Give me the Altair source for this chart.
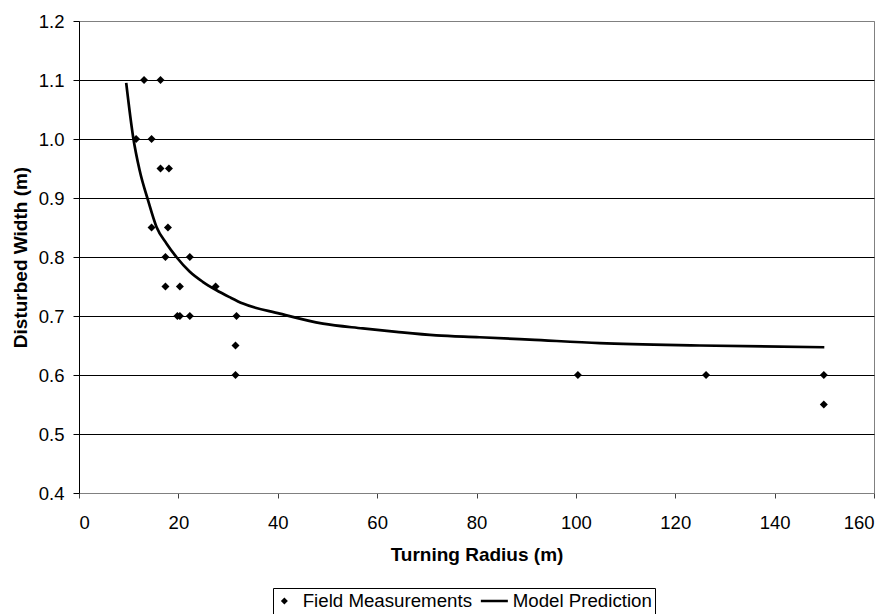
import altair as alt
import pandas as pd

# Field measurements (turning radius m, disturbed width m)
field_x = [13.1, 16.4, 11.5, 14.6, 16.4, 18.1, 14.6, 17.9, 17.4, 22.3, 17.4, 20.3,
           27.5, 19.8, 20.3, 22.3, 31.7, 31.5, 31.5, 100.4, 126.2, 149.9, 149.9]
field_y = [1.10, 1.10, 1.00, 1.00, 0.95, 0.95, 0.85, 0.85, 0.80, 0.80, 0.75, 0.75,
           0.75, 0.70, 0.70, 0.70, 0.70, 0.65, 0.60, 0.60, 0.60, 0.60, 0.55]

# Model prediction curve
model_x = [9.5, 10.9, 12.2, 13.9, 15.6, 17.6, 19.6, 22.3, 24.9, 27.6, 30.3, 33.0,
           40.4, 49.1, 57.1, 63.9, 71.9, 80.6, 90.7, 104.8, 124.9, 150.0]
model_y = [1.095, 1.003, 0.947, 0.896, 0.851, 0.823, 0.800, 0.775, 0.758, 0.744,
           0.732, 0.721, 0.704, 0.687, 0.679, 0.673, 0.667, 0.664, 0.660, 0.654,
           0.650, 0.647]

series_names = ["Field Measurements", "Model Prediction"]
x_ticks = [0, 20, 40, 60, 80, 100, 120, 140, 160]
y_ticks = [0.4, 0.5, 0.6, 0.7, 0.8, 0.9, 1.0, 1.1, 1.2]

field_df = pd.DataFrame({"x": field_x, "y": field_y, "series": series_names[0]})
model_df = pd.DataFrame({"x": model_x, "y": model_y, "series": series_names[1]})

FONT = "Liberation Sans"
LABEL_SIZE = 18.5
TITLE_SIZE = 19

x_enc = alt.X("x:Q", scale=alt.Scale(domain=[0, 160], nice=False, zero=False),
              axis=alt.Axis(values=x_ticks, title="Turning Radius (m)", grid=False,
                            domainColor="#808080", tickColor="#404040", tickSize=5,
                            labelPadding=15,
                            titleBaseline="alphabetic", titleY=67))
y_enc = alt.Y("y:Q", scale=alt.Scale(domain=[0.4, 1.2], nice=False, zero=False),
              axis=alt.Axis(values=y_ticks, format=".1f", title="Disturbed Width (m)",
                            grid=True,
                            gridColor=alt.condition("datum.value >= 1.19 || datum.value <= 0.41",
                                                    alt.value("#808080"), alt.value("#000000")),
                            domainColor="#000000", tickColor="#000000", tickSize=6,
                            labelPadding=9,
                            titleAngle=270, titleAlign="center", titleBaseline="middle",
                            titleX=-59, titleY=236))

IS_MODEL = "datum.value == 'Model Prediction'"
legend = alt.Legend(
    title=None, orient="none", legendX=194, legendY=567, direction="horizontal",
    columns=2, strokeColor="#000000", padding=3, clipHeight=19,
    symbolType=alt.ExprRef(expr=f"{IS_MODEL} ? 'stroke' : 'diamond'"),
    symbolSize=alt.ExprRef(expr=f"{IS_MODEL} ? 729 : 49"),
    symbolStrokeWidth=alt.ExprRef(expr=f"{IS_MODEL} ? 2.5 : 0"),
    symbolOffset=alt.ExprRef(expr=f"{IS_MODEL} ? 11 : -1"),
    symbolFillColor="#000000", symbolStrokeColor="#000000", symbolOpacity=1,
    labelFont=FONT, labelFontSize=18.7, labelColor="#000000", labelOffset=9,
    labelLimit=400, columnPadding=2,
)

color_enc = alt.Color("series:N",
                      scale=alt.Scale(domain=series_names, range=["#000000", "#000000"]),
                      legend=legend)

points = alt.Chart(field_df).mark_point(shape="diamond", filled=True, size=64, opacity=1).encode(
    x=x_enc, y=y_enc, color=color_enc)

line = alt.Chart(model_df).mark_line(strokeWidth=2.7, interpolate="monotone").encode(
    x=x_enc, y=y_enc, color=color_enc, order="x:Q")

chart = alt.layer(points, line).properties(
    width=795, height=472,
    autosize=alt.AutoSizeParams(type="none"),
    padding={"left": 79, "top": 21, "right": 22, "bottom": 121},
    background="#ffffff",
).configure_view(
    stroke="#808080", strokeWidth=1,
).configure_axis(
    labelFont=FONT, labelFontSize=LABEL_SIZE, labelColor="#000000",
    titleFont=FONT, titleFontSize=TITLE_SIZE, titleFontWeight="bold", titleColor="#000000",
    domainWidth=1, tickWidth=1, gridWidth=1,
)

chart.save("out.html", embed_options={"renderer": "svg", "actions": False})
